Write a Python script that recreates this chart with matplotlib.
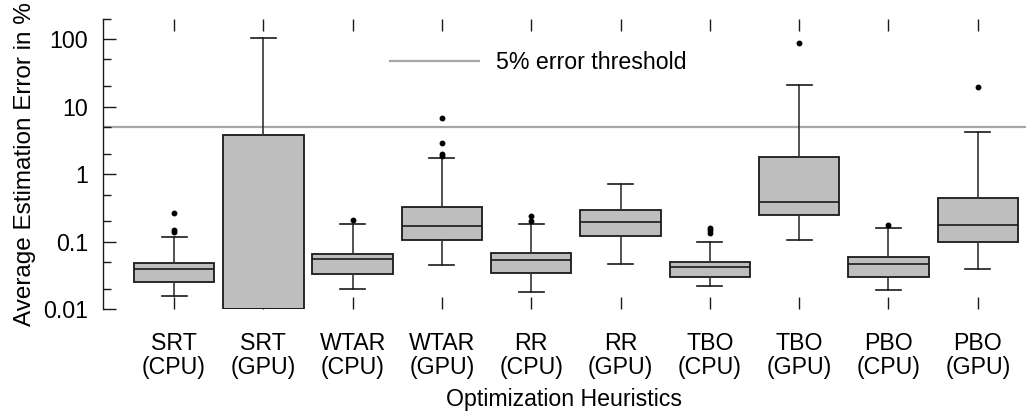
import matplotlib
matplotlib.use("Agg")
import matplotlib.pyplot as plt
from matplotlib.lines import Line2D

plt.rcParams['font.family'] = ['Liberation Sans', 'DejaVu Sans']

# ---- data ----
labels = ["SRT\n(CPU)", "SRT\n(GPU)", "WTAR\n(CPU)", "WTAR\n(GPU)", "RR\n(CPU)",
          "RR\n(GPU)", "TBO\n(CPU)", "TBO\n(GPU)", "PBO\n(CPU)", "PBO\n(GPU)"]
q1 = [0.025, 0.01, 0.033, 0.105, 0.034, 0.121, 0.030, 0.248, 0.030, 0.098]
med = [0.039, 0.01, 0.055, 0.171, 0.054, 0.196, 0.042, 0.391, 0.047, 0.175]
q3 = [0.048, 3.8, 0.066, 0.323, 0.069, 0.291, 0.051, 1.79, 0.059, 0.439]
whislo = [0.0157, 0.01, 0.020, 0.0457, 0.0182, 0.0473, 0.0219, 0.106, 0.0193, 0.039]
whishi = [0.119, 102.0, 0.185, 1.71, 0.185, 0.707, 0.099, 21.0, 0.161, 4.2]
fliers = [[0.138, 0.148, 0.263], [], [0.209], [1.85, 1.98, 2.91, 6.76],
          [0.20, 0.24], [], [0.133, 0.149, 0.161], [86.1], [0.178], [19.6]]
threshold = 5.0
threshold_label = "5% error threshold"
ytick_values = [0.01, 0.1, 1, 10, 100]
ytick_labels = ["0.01", "0.1", "1", "10", "100"]

FS = 16.7

# ---- figure ----
fig = plt.figure(figsize=(10.26, 4.12), dpi=100)
ax = fig.add_axes([0.1, 0.249, 0.9, 0.706])

stats = []
for i in range(len(labels)):
    stats.append(dict(q1=q1[i], med=med[i], q3=q3[i], whislo=whislo[i],
                      whishi=whishi[i], fliers=fliers[i], label=labels[i]))

positions = list(range(1, len(labels) + 1))
ax.bxp(stats, positions=positions, widths=0.9, capwidths=0.28, patch_artist=True,
       showfliers=True,
       boxprops=dict(facecolor="#bebebe", edgecolor="#1a1a1a", linewidth=1.3),
       medianprops=dict(color="#1a1a1a", linewidth=1.2),
       whiskerprops=dict(color="#333333", linewidth=1.2),
       capprops=dict(color="#1a1a1a", linewidth=1.2),
       flierprops=dict(marker="o", markerfacecolor="black", markeredgecolor="black",
                       markersize=3.2, linestyle="none"))

ax.axhline(threshold, color="#a6a6a6", linewidth=1.6, zorder=0.5)

ax.set_yscale("log")
ax.set_ylim(0.01, 200)
ax.set_xlim(0.2, 10.54)
ax.set_yticks(ytick_values)
ax.set_yticklabels(ytick_labels)
ax.yaxis.set_minor_locator(matplotlib.ticker.LogLocator(base=10, subs=(2.0, 5.0)))
ax.yaxis.set_minor_formatter(matplotlib.ticker.NullFormatter())

ax.set_xticks(positions)
ax.set_xticklabels(labels, fontsize=FS, linespacing=1.1)

for s in ["top", "right", "bottom"]:
    ax.spines[s].set_visible(False)
ax.spines["left"].set_color("#1a1a1a")
ax.spines["left"].set_linewidth(1.0)

ax.tick_params(axis="x", which="both", direction="in", length=8.5, width=1.0,
               color="#1a1a1a", top=True, bottom=True, pad=16)
ax.tick_params(axis="y", which="major", direction="in", length=9, width=1.0,
               color="#1a1a1a", labelsize=FS, pad=10.5)
ax.tick_params(axis="y", which="minor", direction="in", length=6, width=1.0,
               color="#1a1a1a")

ax.set_ylabel("Average Estimation Error in %", fontsize=17.5, labelpad=5)
ax.set_xlabel("Optimization Heuristics", fontsize=FS, labelpad=6.5)

handle = Line2D([], [], color="#a6a6a6", linewidth=1.6)
leg = fig.legend([handle], [threshold_label], loc="center left",
                 bbox_to_anchor=(0.380, 0.849), frameon=False, fontsize=FS,
                 handlelength=3.85, handletextpad=0.72, borderpad=0, borderaxespad=0)

fig.savefig("out.png", dpi=100)
